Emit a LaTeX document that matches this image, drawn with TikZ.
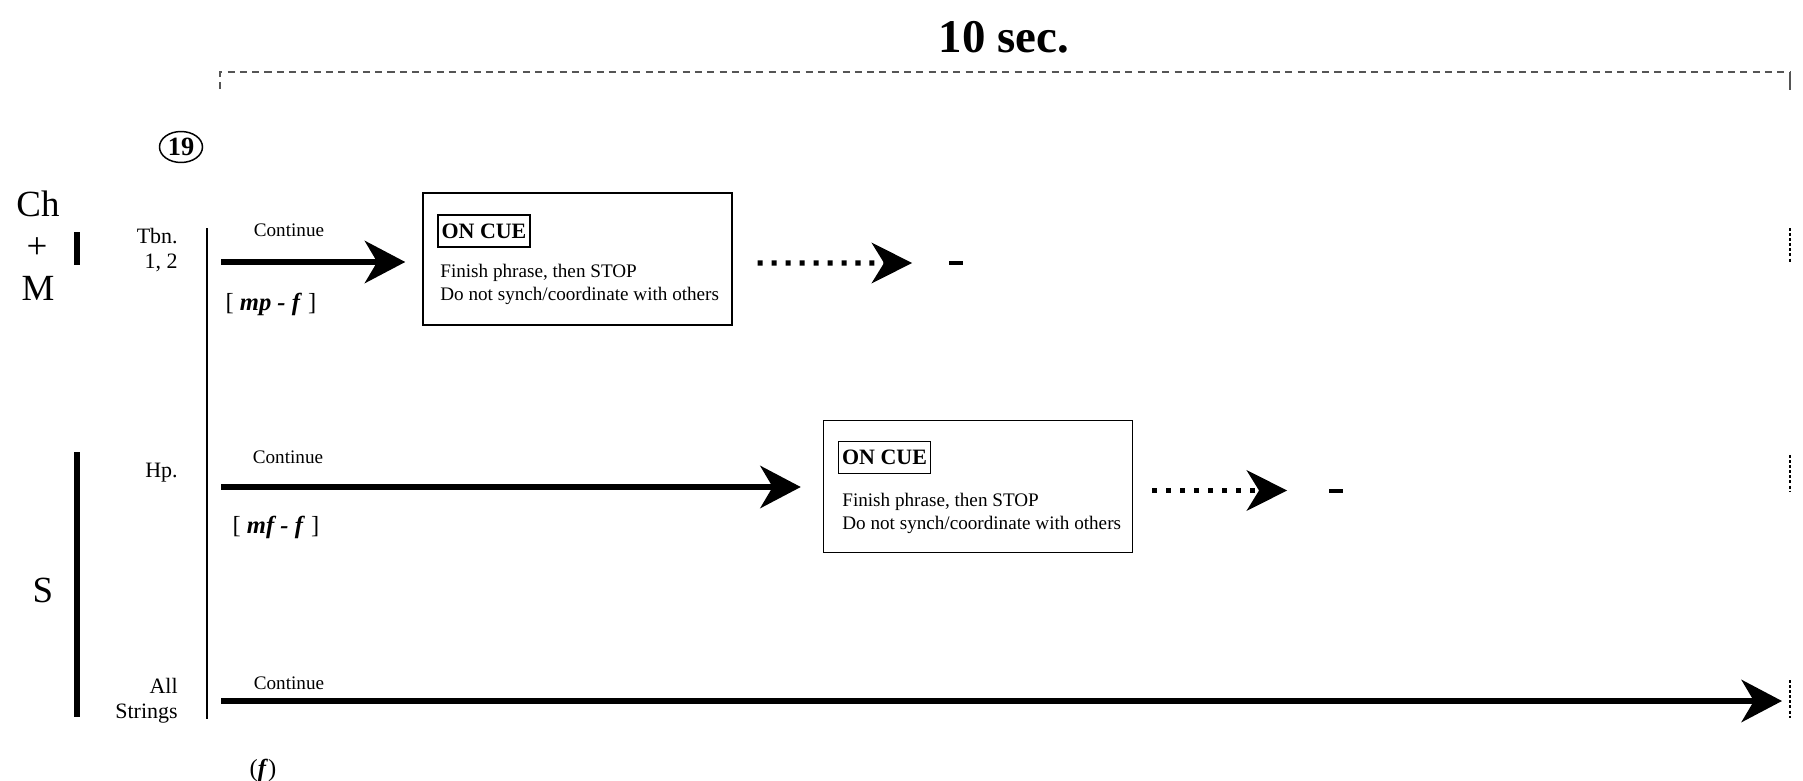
\documentclass[tikz,border=0pt]{standalone}
\usepackage{fontspec}
\setmainfont{Liberation Serif}
\usepackage{tikz}
\usetikzlibrary{positioning,calc,arrows.meta,shapes.geometric}
\definecolor{tickgray}{HTML}{555555}

\tikzset{
  part/.style={font=\fontsize{12.5}{14.2}\selectfont, inner sep=0pt, align=right, anchor=east},
  group/.style={font=\fontsize{21}{24}\selectfont, inner sep=0pt},
  note/.style={font=\fontsize{10.9}{13.1}\selectfont, inner sep=0pt},
  dyn/.style={font=\fontsize{14}{16}\selectfont, inner sep=0pt},
  cuebox/.style={draw, line width=0.85pt, minimum width=6.18cm, minimum height=2.64cm, inner sep=0pt},
  cuetag/.style={draw, line width=0.85pt, font=\bfseries\fontsize{12.5}{14}\selectfont, minimum width=1.84cm, minimum height=0.64cm, inner sep=0pt},
  cuetext/.style={note, align=left, anchor=west},
  flow/.style={line width=3.4pt, -{Stealth[length=23pt, width=24pt, inset=7pt]}},
  fade/.style={line width=2.85pt, dash pattern=on 2.85pt off 5.1pt, -{Stealth[length=23pt, width=23pt, inset=7pt]}},
  restmark/.style={fill=black, minimum width=0.28cm, minimum height=0.08cm, inner sep=0pt},
  bar/.style={line width=2.85pt},
  rule/.style={line width=0.6pt},
  span/.style={line width=0.6pt, draw=tickgray, dash pattern=on 4pt off 3pt},
  endmark/.style={line width=0.6pt, dash pattern=on 1.7pt off 1.2pt}
}

\begin{document}
\begin{tikzpicture}[x=0.02cm, y=-0.02cm, >=Stealth]
  \useasboundingbox (0,0) rectangle (1803,781);

  % Timing bracket
  \node[font=\bfseries\fontsize{26.7}{30}\selectfont, inner sep=0pt] (title) at (1004,37) {10 sec.};
  \coordinate (spanL) at (220,89);
  \coordinate (spanR) at (1790,72);
  \draw[span] (spanL) -- (spanL |- spanR) -- (spanR);
  \draw[line width=0.6pt, draw=tickgray] (spanR) -- ++(0,18);

  % Rehearsal mark
  \node[ellipse, draw, line width=0.85pt, minimum width=0.86cm, minimum height=0.62cm, inner sep=0pt, font=\bfseries\fontsize{15}{16}\selectfont] (reh) at (181,147) {19};

  % Groups
  \node[group] (ch) at (38,204) {Ch};
  \node[group] (plus) at (37,248) {+};
  \node[group] (m) at (38,288) {M};
  \node[group] (s) at (43,590) {S};
  \draw[bar] (77,232) -- (77,265);
  \draw[bar] (77,452) -- (77,717);

  % Parts
  \node[part] (tbn) at (178,250) {Tbn.\\1, 2};
  \node[part] (hp) at (178,473) {Hp.};
  \node[part] (str) at (178,701) {All\\Strings};
  \draw[rule] (207,228) -- (207,719);

  % Trombones
  \node[note] (tbncont) at (289,230) {Continue};
  \node[dyn] (tbndyn) at (271,304) {[ \textbf{\textit{mp - f}} ]};
  \node[cuebox] (tbnbox) at (577.5,259) {};
  \node[cuetag] (tbntag) at (484,231) {ON CUE};
  \node[cuetext] (tbntext) at (440,284.5) {Finish phrase, then STOP\\Do not synch/coordinate with others};
  \node[restmark] (tbnrest) at (955.5,262.5) {};
  \coordinate (tbnstart) at (221,262);
  \draw[flow] (tbnstart) -- ($(tbnbox.west |- tbnstart)+(-17,0)$);
  \draw[fade] ($(tbnbox.east |- tbnstart)+(25,1)$) -- ($(tbnrest.west)+(-36,0.5)$);

  % Harp
  \node[note] (hpcont) at (288,457) {Continue};
  \node[dyn] (hpdyn) at (276,527) {[ \textbf{\textit{mf - f}} ]};
  \node[cuebox] (hpbox) at (978,486.5) {};
  \node[cuetag] (hptag) at (884.5,457.5) {ON CUE};
  \node[cuetext] (hptext) at (842,513.5) {Finish phrase, then STOP\\Do not synch/coordinate with others};
  \node[restmark] (hprest) at (1335.5,490.5) {};
  \coordinate (hpstart) at (221,487);
  \draw[flow] (hpstart) -- ($(hpbox.west |- hpstart)+(-22,0)$);
  \draw[fade] ($(hpbox.east |- hprest)+(19,0)$) -- ($(hprest.west)+(-41,0)$);

  % Strings
  \node[note] (strcont) at (289,683) {Continue};
  \node[dyn] (strdyn) at (263,770) {(\textbf{\textit{f}})};
  \coordinate (strstart) at (221,701);
  \coordinate (strend) at (1782,701);
  \draw[flow] (strstart) -- (strend);

  % End of span
  \foreach \ya/\yb in {228/262, 455/492, 680/718}
    \draw[endmark] (1790,\ya) -- (1790,\yb);
\end{tikzpicture}
\end{document}
